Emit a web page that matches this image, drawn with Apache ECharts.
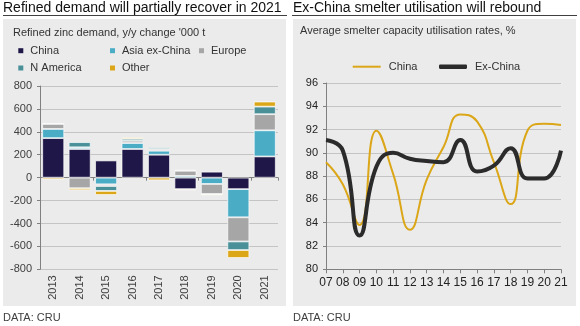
<!DOCTYPE html>
<html>
<head>
<meta charset="utf-8">
<script src="https://cdn.jsdelivr.net/npm/echarts@6/dist/echarts.min.js"></script>
<style>
html,body{margin:0;padding:0;background:#fff;}
#chart{width:580px;height:326px;}
</style>
</head>
<body>
<div id="chart"></div>
<script>
// Left chart: refined zinc demand y/y change '000 t
var demandYears = ['2013','2014','2015','2016','2017','2018','2019','2020','2021'];
var chinaDemand = [345, 250, 150, 250, 200, -100, 52, -100, 185];
var asiaExChina = [80, 15, -58, 52, 35, 15, -55, -246, 228];
var europe = [45, -92, -15, 20, 15, 45, -89, -211, 141];
var nAmerica = [0, 45, -43, 17, 15, 8, 0, -75, 66];
var otherDemand = [-15, -17, -35, 12, -23, -10, -9, -69, 44];
var demandTicks = [-800, 800, 200];

// Right chart: smelter capacity utilisation rates, %
var utilYears = ['07','08','09','10','11','12','13','14','15','16','17','18','19','20','21'];
var chinaUtil = [89.2, 87.3, 83.8, 91.9, 88.2, 83.4, 87.7, 90.5, 93.3, 92.7, 89.2, 85.6, 91.9, 92.5, 92.4];
var exChinaUtil = [91.1, 90.2, 82.9, 88.8, 90.0, 89.5, 89.3, 89.2, 91.1, 88.4, 88.9, 90.4, 87.8, 87.8, 90.2];
var utilTicks = [80, 96, 2];

var FONT = '"Liberation Sans", Arial, sans-serif';
var LBL = '#404040';
var GRIDC = '#c4c4c4';
var AXC = '#808080';

var colors = {
  china: '#1f1747',
  asia: '#4bacc6',
  europe: '#a6a6a6',
  nam: '#4a9099',
  other: '#dba617'
};

function barSeries(name, data, color) {
  return {
    name: name, type: 'bar', stack: 'd', data: data,
    xAxisIndex: 0, yAxisIndex: 0,
    barCategoryGap: '17%',
    itemStyle: { color: color, borderColor: 'rgba(255,255,255,0.85)', borderWidth: 0.8 },
    emphasis: { disabled: true }
  };
}

function sqLegend(names, left) {
  return { data: names, orient: 'vertical', left: left, top: 44.7, padding: 0,
    itemWidth: 5, itemHeight: 5, itemGap: 5.3, icon: 'rect',
    itemStyle: { borderWidth: 0 },
    textStyle: { fontSize: 11, color: '#333', fontFamily: FONT, padding: [0,0,0,2], lineHeight: 12 } };
}

var chart = echarts.init(document.getElementById('chart'), null, { renderer: 'canvas' });
chart.setOption({
  animation: false,
  textStyle: { fontFamily: FONT },
  graphic: [
    { type: 'rect', z: -10, shape: { x: 3, y: 19, width: 283, height: 287 }, style: { fill: '#ebebeb' } },
    { type: 'rect', z: -10, shape: { x: 293, y: 19, width: 283, height: 287 }, style: { fill: '#ebebeb' } },
    { type: 'line', shape: { x1: 3, y1: 15.5, x2: 287, y2: 15.5 }, style: { stroke: '#404040', lineWidth: 1 } },
    { type: 'line', shape: { x1: 292, y1: 15.5, x2: 577, y2: 15.5 }, style: { stroke: '#404040', lineWidth: 1 } },
    { type: 'text', x: 3, y: 8, style: { text: 'Refined demand will partially recover in 2021', font: '14px ' + FONT, fill: '#111', textVerticalAlign: 'middle' } },
    { type: 'text', x: 293, y: 8, style: { text: 'Ex-China smelter utilisation will rebound', font: '14px ' + FONT, fill: '#111', textVerticalAlign: 'middle' } },
    { type: 'text', x: 13, y: 32.5, style: { text: "Refined zinc demand, y/y change '000 t", font: '11px ' + FONT, fill: '#333', textVerticalAlign: 'middle' } },
    { type: 'text', x: 300, y: 31, style: { text: 'Average smelter capacity utilisation rates, %', font: '11px ' + FONT, fill: '#333', textVerticalAlign: 'middle' } },
    { type: 'text', x: 3, y: 318, style: { text: 'DATA: CRU', font: '11px ' + FONT, fill: '#404040', textVerticalAlign: 'middle' } },
    { type: 'text', x: 293, y: 318, style: { text: 'DATA: CRU', font: '11px ' + FONT, fill: '#404040', textVerticalAlign: 'middle' } }
  ],
  legend: [
    sqLegend(['China', 'N America'], 18.3),
    sqLegend(['Asia ex-China', 'Other'], 110),
    sqLegend(['Europe'], 199),
    { data: ['China '], left: 352.7, top: 60.7, padding: 0, itemWidth: 28, itemHeight: 2, icon: 'rect',
      itemStyle: { borderWidth: 0 },
      textStyle: { fontSize: 11, color: '#333', fontFamily: FONT, padding: [0,0,0,3], lineHeight: 12 },
      formatter: function (n) { return n.trim(); } },
    { data: ['Ex-China'], left: 439, top: 60.7, padding: 0, itemWidth: 28, itemHeight: 4.5, icon: 'roundRect',
      itemStyle: { borderWidth: 0 },
      textStyle: { fontSize: 11, color: '#333', fontFamily: FONT, padding: [0,0,0,3], lineHeight: 12 } }
  ],
  grid: [
    { left: 40, right: 302, top: 86, bottom: 56.7 },
    { left: 326, right: 19, top: 83, bottom: 56.7 }
  ],
  xAxis: [
    { gridIndex: 0, type: 'category', data: demandYears, position: 'bottom',
      axisLine: { show: false, onZero: false }, axisTick: { show: false },
      axisLabel: { rotate: 90, margin: 6, fontSize: 11, color: LBL, fontFamily: FONT } },
    { gridIndex: 0, type: 'category', data: demandYears, position: 'bottom',
      axisLine: { show: true, onZero: true, lineStyle: { color: AXC } },
      axisTick: { show: true, length: 3, lineStyle: { color: AXC } },
      axisLabel: { show: false } },
    { gridIndex: 1, type: 'category', data: utilYears, boundaryGap: false,
      axisLine: { lineStyle: { color: AXC } },
      axisTick: { show: true, length: 4, interval: 0, lineStyle: { color: AXC } },
      axisLabel: { interval: 0, margin: 7, fontSize: 12, color: '#222', fontFamily: FONT } }
  ],
  yAxis: [
    { gridIndex: 0, type: 'value', min: demandTicks[0], max: demandTicks[1], interval: demandTicks[2],
      axisLine: { show: true, lineStyle: { color: AXC } },
      axisTick: { show: true, length: 3, lineStyle: { color: AXC } },
      axisLabel: { margin: 8, fontSize: 11, color: LBL, fontFamily: FONT },
      splitLine: { show: true, lineStyle: { color: GRIDC, width: 1 } } },
    { gridIndex: 1, type: 'value', min: utilTicks[0], max: utilTicks[1], interval: utilTicks[2],
      axisLine: { show: true, lineStyle: { color: AXC } },
      axisTick: { show: true, length: 3, lineStyle: { color: AXC } },
      axisLabel: { margin: 8, fontSize: 11, color: '#222', fontFamily: FONT },
      splitLine: { show: true, lineStyle: { color: GRIDC, width: 1 } } }
  ],
  series: [
    barSeries('China', chinaDemand, colors.china),
    barSeries('Asia ex-China', asiaExChina, colors.asia),
    barSeries('Europe', europe, colors.europe),
    barSeries('N America', nAmerica, colors.nam),
    barSeries('Other', otherDemand, colors.other),
    { name: 'China ', type: 'line', xAxisIndex: 2, yAxisIndex: 1, data: chinaUtil, smooth: 0.5,
      symbol: 'none', itemStyle: { color: '#dba617' }, lineStyle: { color: '#dba617', width: 2 }, emphasis: { disabled: true } },
    { name: 'Ex-China', type: 'line', xAxisIndex: 2, yAxisIndex: 1, data: exChinaUtil, smooth: 0.5,
      symbol: 'none', itemStyle: { color: '#2b2b2b' }, lineStyle: { color: '#2b2b2b', width: 4 }, emphasis: { disabled: true } }
  ]
});
</script>
</body>
</html>
